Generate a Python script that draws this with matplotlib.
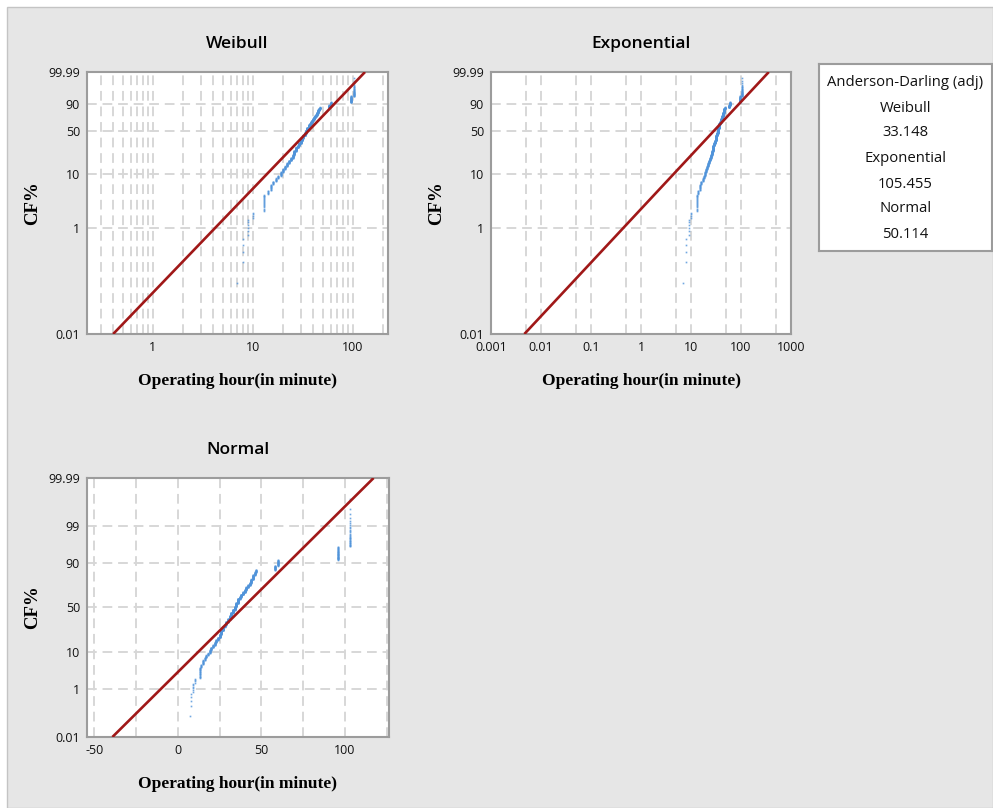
import math
import numpy as np
import matplotlib
matplotlib.use("Agg")
import matplotlib.pyplot as plt
from matplotlib.patches import Rectangle
from matplotlib.ticker import FixedLocator, NullLocator

# operating times (minutes) and how many failures share each value (ties)
TIMES = [7, 8, 9, 10, 13, 14, 15, 16, 17, 18, 19, 20, 21, 22, 23, 24, 25, 26,
         27, 28, 29, 30, 31, 32, 33, 34, 35, 36, 37, 38, 39, 40, 41, 42, 43,
         44, 45, 46, 47, 58, 60, 96, 103]
COUNTS = [1, 4, 6, 4, 17, 6, 11, 7, 8, 7, 12, 11, 11, 14, 13, 14, 19, 26,
          27, 15, 22, 23, 26, 26, 26, 27, 30, 37, 15, 19, 19, 18, 19, 15, 15,
          23, 26, 15, 11, 19, 22, 34, 30]

# fitted lines, endpoints (x, CF%)
FIT_WEIBULL_X = [0.40, 132.0]
FIT_EXPON_X = [0.00465, 360.0]
FIT_NORMAL_X = [-39.2, 117.1]
FIT_Y = [0.01, 99.99]

AD_LABELS = ["Weibull", "Exponential", "Normal"]
AD_VALUES = ["33.148", "105.455", "50.114"]

W, H = 993, 808
BG = "#e6e6e6"
GRID = "#d7d7d7"
SPINE = "#9c9c9c"
RED = "#a01818"
BLUE = "#4f93da"
TICKFONT = "Open Sans"
LABELFONT = "Liberation Serif"


def weib_fwd(p):
    p = np.clip(np.asarray(p, float) / 100.0, 1e-12, 1 - 1e-12)
    return np.log(-np.log1p(-p))


def weib_inv(y):
    return 100.0 * (-np.expm1(-np.exp(np.asarray(y, float))))


def norm_fwd(p):
    # Acklam's rational approximation of the normal quantile
    p = np.clip(np.asarray(p, float) / 100.0, 1e-12, 1 - 1e-12)
    a = [-3.969683028665376e+01, 2.209460984245205e+02, -2.759285104469687e+02,
         1.383577518672690e+02, -3.066479806614716e+01, 2.506628277459239e+00]
    b = [-5.447609879822406e+01, 1.615858368580409e+02, -1.556989798598866e+02,
         6.680131188771972e+01, -1.328068155288572e+01]
    c = [-7.784894002430293e-03, -3.223964580411365e-01, -2.400758277161838e+00,
         -2.549671350836121e+00, 4.374664141464968e+00, 2.938163982698783e+00]
    d = [7.784695709041462e-03, 3.224671290700398e-01, 2.445134137142996e+00,
         3.754408661907416e+00]
    plow = 0.02425
    out = np.empty_like(p)
    lo = p < plow
    hi = p > 1 - plow
    mid = ~(lo | hi)
    q = np.sqrt(-2 * np.log(p[lo]))
    out[lo] = (((((c[0]*q+c[1])*q+c[2])*q+c[3])*q+c[4])*q+c[5]) / \
              ((((d[0]*q+d[1])*q+d[2])*q+d[3])*q+1)
    q = np.sqrt(-2 * np.log(1 - p[hi]))
    out[hi] = -(((((c[0]*q+c[1])*q+c[2])*q+c[3])*q+c[4])*q+c[5]) / \
               ((((d[0]*q+d[1])*q+d[2])*q+d[3])*q+1)
    q = p[mid] - 0.5
    r = q * q
    out[mid] = (((((a[0]*r+a[1])*r+a[2])*r+a[3])*r+a[4])*r+a[5])*q / \
               (((((b[0]*r+b[1])*r+b[2])*r+b[3])*r+b[4])*r+1)
    return out


_erfc = np.vectorize(math.erfc)


def norm_inv(z):
    z = np.asarray(z, float)
    return 100.0 * 0.5 * _erfc(-z / math.sqrt(2))


def style_axes(ax):
    ax.set_facecolor("white")
    for s in ax.spines.values():
        s.set_color(SPINE)
        s.set_linewidth(1.5)
    ax.tick_params(which="both", length=0, labelsize=9, colors="#111111", pad=5)
    for lab in ax.get_xticklabels() + ax.get_yticklabels():
        lab.set_fontfamily(TICKFONT)
    ax.grid(True, which="both", color=GRID, lw=1.4, ls=(0, (5, 3)))
    ax.set_axisbelow(True)
    ax.set_ylim(0.01, 99.99)
    ax.set_ylabel("CF%", fontfamily=LABELFONT, fontweight="bold", fontsize=13.5, va="center")
    ax.set_xlabel("Operating hour(in minute)", fontfamily=LABELFONT, fontweight="bold",
                  fontsize=12.5, va="center")


def main():
    times = np.repeat(TIMES, COUNTS).astype(float)
    n = len(times)
    ranks = np.arange(1, n + 1)
    cf = (ranks - 0.3) / (n + 0.4) * 100.0  # median ranks

    fig = plt.figure(figsize=(W / 100, H / 100), dpi=100, facecolor="white")
    fig.patches.append(Rectangle((7 / W, 0), 1 - 7 / W, 1 - 7 / H, transform=fig.transFigure,
                                 facecolor=BG, edgecolor="#c4c4c4", lw=1, zorder=-10))

    def axes_at(l, t, r, b):
        return fig.add_axes([l / W, 1 - b / H, (r - l) / W, (b - t) / H])

    panels = [
        ("Weibull", axes_at(87, 72, 388, 334), "weib", FIT_WEIBULL_X),
        ("Exponential", axes_at(491, 72, 791, 334), "weib", FIT_EXPON_X),
        ("Normal", axes_at(87, 478, 389, 737), "norm", FIT_NORMAL_X),
    ]

    for title, ax, kind, fitx in panels:
        if kind == "weib":
            ax.set_yscale("function", functions=(weib_fwd, weib_inv))
            yt = [0.01, 1, 10, 50, 90, 99.99]
        else:
            ax.set_yscale("function", functions=(norm_fwd, norm_inv))
            yt = [0.01, 1, 10, 50, 90, 99, 99.99]
        ax.yaxis.set_major_locator(FixedLocator(yt))
        ax.yaxis.set_minor_locator(NullLocator())
        ax.set_yticklabels(["%g" % v for v in yt])

        if title == "Weibull":
            ax.set_xscale("log")
            ax.set_xlim(0.219, 224)
            ax.xaxis.set_major_locator(FixedLocator([1, 10, 100]))
            minors = [m * 10.0 ** e for e in (-1, 0, 1, 2) for m in range(2, 10)]
            ax.xaxis.set_minor_locator(FixedLocator(minors))
            ax.set_xticklabels(["1", "10", "100"])
            ax.xaxis.set_minor_formatter(plt.NullFormatter())
        elif title == "Exponential":
            ax.set_xscale("log")
            ax.set_xlim(0.001, 1000)
            xt = [0.001, 0.01, 0.1, 1, 10, 100, 1000]
            ax.xaxis.set_major_locator(FixedLocator(xt))
            ax.xaxis.set_minor_locator(FixedLocator([5 * v for v in xt[:-1]]))
            ax.set_xticklabels(["0.001", "0.01", "0.1", "1", "10", "100", "1000"])
            ax.xaxis.set_minor_formatter(plt.NullFormatter())
        else:
            ax.set_xlim(-54.4, 126.3)
            ax.xaxis.set_major_locator(FixedLocator([-50, 0, 50, 100]))
            ax.xaxis.set_minor_locator(FixedLocator([-25, 25, 75, 125]))
            ax.set_xticklabels(["-50", "0", "50", "100"])

        ax.plot(times, cf, ls="none", marker="s", ms=1.2, mew=0, color=BLUE, alpha=0.8, zorder=2)
        ax.plot(fitx, FIT_Y, color=RED, lw=1.9, zorder=3, solid_capstyle="butt")
        ax.set_ylim(0.01, 99.99)

        style_axes(ax)
        ax.set_title(title, fontfamily=TICKFONT, fontweight="semibold", fontsize=12.5, pad=17)
        bbox_w = ax.get_position().width * W
        bbox_h = ax.get_position().height * H
        ax.yaxis.set_label_coords(-54 / bbox_w, 0.5)
        ax.xaxis.set_label_coords(0.5, -47 / bbox_h)

    # Anderson-Darling box
    lax = axes_at(819, 64, 992, 251)
    lax.set_xticks([]); lax.set_yticks([])
    lax.set_facecolor("white")
    for s in lax.spines.values():
        s.set_color(SPINE)
        s.set_linewidth(1.5)
    lines = ["Anderson-Darling (adj)"]
    for lab, val in zip(AD_LABELS, AD_VALUES):
        lines += [lab, val]
    ys = [83, 108, 133, 159, 184, 209, 234]
    for txt, yy in zip(lines, ys):
        lax.text(0.5, (251 - yy) / (251 - 64), txt, transform=lax.transAxes, ha="center",
                 va="center", fontsize=10.7, fontfamily=TICKFONT, color="#111111")

    fig.savefig("out.png", dpi=100, facecolor=fig.get_facecolor())


if __name__ == "__main__":
    main()
